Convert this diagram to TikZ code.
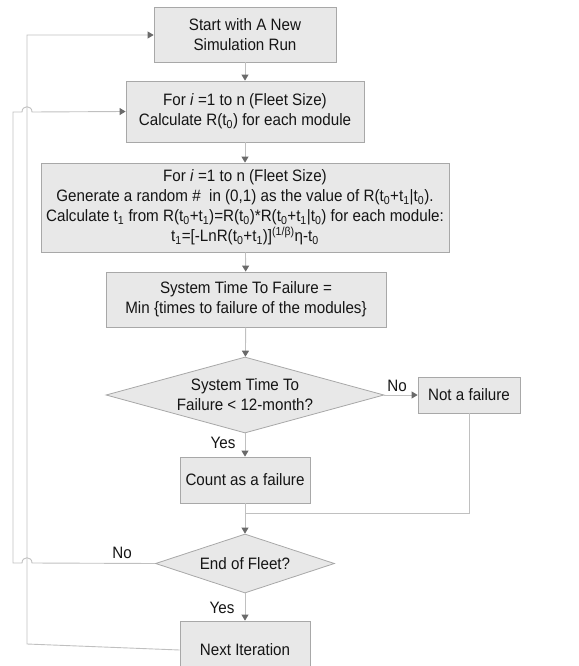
\documentclass[tikz,border=0pt]{standalone}
\usepackage{fontspec}
\setmainfont{Liberation Sans}[FakeStretch=0.92]
\usetikzlibrary{arrows.meta,shapes.geometric,shadows}
\definecolor{boxfill}{HTML}{E8E8E8}
\definecolor{boxline}{HTML}{A8A8A8}
\definecolor{conline}{HTML}{C0C0C0}
\definecolor{tipcol}{HTML}{6A6A6A}
\definecolor{txt}{HTML}{151515}
\newcommand{\sbs}[1]{\textsubscript{#1}}
\begin{document}
\begin{tikzpicture}[x=1pt,y=-1pt,
  font=\fontsize{16.5}{20}\selectfont, text=txt,
  procbox/.style={draw=boxline, fill=boxfill, line width=0.8pt, inner sep=0pt, align=center,
    drop shadow={shadow xshift=0pt, shadow yshift=-1.2pt, fill=black!35, opacity=1}},
  decbox/.style={diamond, aspect=3.6, draw=boxline, fill=boxfill, line width=0.8pt, inner sep=0pt, align=center},
  con/.style={draw=conline, line width=0.9pt},
  arr/.style={con, -{Triangle[length=6pt, width=7pt, color=tipcol, fill=tipcol]}},
  lbl/.style={font=\fontsize{16.5}{20}\selectfont, inner sep=0pt}
]
\useasboundingbox (0,0) rectangle (578,666);
\clip (0,0) rectangle (578,666);

\node[procbox, minimum width=182pt, minimum height=55pt] (start) at (245,34.5)
  {Start with A New\\Simulation Run};
\node[procbox, minimum width=238pt, minimum height=61pt] (calc) at (245,111.5)
  {For \textit{i} =1 to n (Fleet Size)\\Calculate R(t\sbs{0}) for each module};
\node[procbox, minimum width=408pt, minimum height=89pt] (gen) at (245,207.5)
  {For \textit{i} =1 to n (Fleet Size)\\
   Generate a random \#\ \ in (0,1) as the value of R(t\sbs{0}+t\sbs{1}|t\sbs{0}).\\
   Calculate t\sbs{1} from R(t\sbs{0}+t\sbs{1})=R(t\sbs{0})*R(t\sbs{0}+t\sbs{1}|t\sbs{0}) for each module:\\
   t\sbs{1}=[-LnR(t\sbs{0}+t\sbs{1})]\textsuperscript{(1/β)}η-t\sbs{0}};
\node[procbox, minimum width=280pt, minimum height=55pt] (sys) at (246,299.5)
  {System Time To Failure =\\Min \{times to failure of the modules\}};
\node[decbox, minimum width=278pt, minimum height=76pt] (dec1) at (245,395)
  {System Time To\\Failure < 12-month?};
\node[procbox, minimum width=102pt, minimum height=36pt] (notf) at (469,395)
  {Not a failure};
\node[procbox, minimum width=130pt, minimum height=46pt] (count) at (245,480)
  {Count as a failure};
\node[decbox, minimum width=179pt, minimum height=59pt] (dec2) at (245,563.5)
  {End of Fleet?};
\node[procbox, minimum width=130pt, minimum height=58pt, text depth=0pt] (next) at (245,650)
  {Next Iteration};

\coordinate (merge) at (245,513);
\coordinate (la) at (13,563);
\coordinate (lb) at (13,112);
\coordinate (ia) at (27,644);
\coordinate (ib) at (27,35);

\draw[arr] (start) -- (calc);
\draw[arr] (calc) -- (gen);
\draw[arr] (gen) -- (sys);
\draw[arr] (sys) -- (dec1);
\draw[arr] (dec1.east) -- (notf.west);
\draw[arr] (dec1.south) -- (count.north);
\draw[con] (count.south) -- (merge);
\draw[con] (notf.south) |- (merge);
\draw[arr] (merge) -- (dec2.north);
\draw[arr] (dec2.south) -- (next.north);

% inner loop: Next Iteration -> Start
\draw[arr] (next.west) -- (ia) -- (ib) -- (start.west |- ib);
% outer loop: End of Fleet? (No) -> For loop, with hops over the inner line
\draw[arr] (dec2.west) -- (32,563) .. controls (32,556) and (22,556) .. (22,563) -- (la) -- (lb)
  -- (22,112) .. controls (22,105) and (32,105) .. (32,112) -- (calc.west);

\node[lbl] (no1) at (397,386) {No};
\node[lbl] (yes1) at (223,443) {Yes};
\node[lbl] (no2) at (122,553) {No};
\node[lbl] (yes2) at (222,608) {Yes};
\end{tikzpicture}
\end{document}
